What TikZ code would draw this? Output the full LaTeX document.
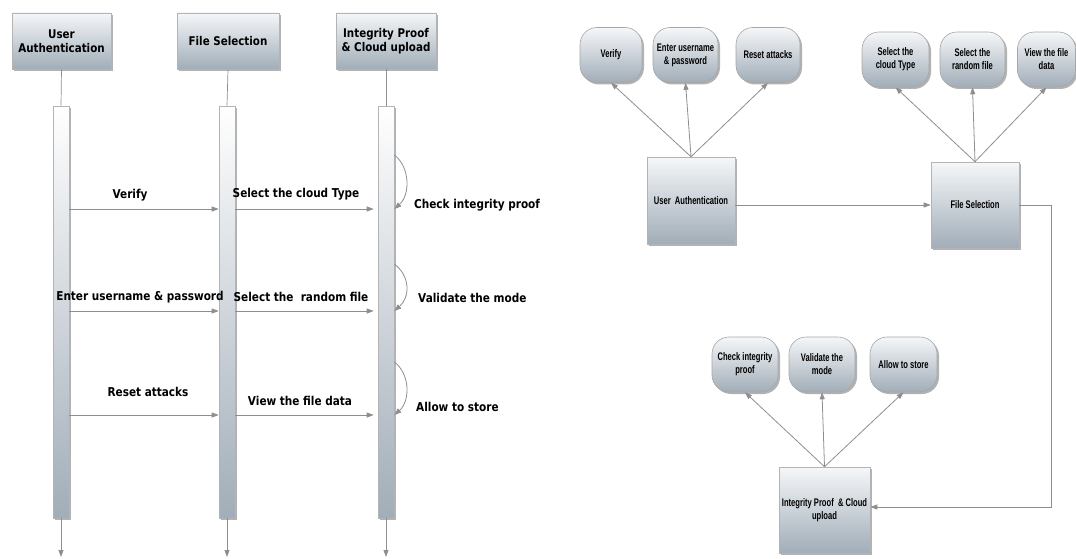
\documentclass[tikz,border=0pt]{standalone}
\usepackage{fontspec}
\setmainfont{DejaVu Sans}
\newfontfamily\seqfont[FakeStretch=0.86]{DejaVu Sans}
\newfontfamily\narrowfont[FakeStretch=0.69]{Liberation Sans}
\usetikzlibrary{arrows.meta,shadows}

\definecolor{lineg}{HTML}{8E8E8E}
\definecolor{shtop}{HTML}{F5F7F9}
\definecolor{shbot}{HTML}{A1ADB8}
\definecolor{edge}{HTML}{B4B4B4}

\tikzset{
  shade box/.style={rectangle, draw=edge, line width=0.6pt, top color=shtop, bottom color=shbot,
    drop shadow={shadow xshift=2pt, shadow yshift=-2pt, fill=black!55, opacity=0.55}},
  header/.style={shade box, minimum height=56pt, align=center,
    font=\seqfont\bfseries\fontsize{12}{14}\selectfont},
  bar/.style={shade box, top color=white, minimum width=16pt, minimum height=412pt},
  lifeline/.style={draw=lineg, line width=0.7pt},
  msg/.style={draw=lineg, line width=0.8pt, -{Triangle[length=7pt,width=5pt]}, lineg},
  msglabel/.style={font=\seqfont\bfseries\fontsize{12.2}{14}\selectfont, inner sep=0pt},
  pill/.style={shade box, rounded corners=17pt, draw=gray!70, minimum height=55pt, align=center,
    font=\narrowfont\bfseries\fontsize{11}{13}\selectfont, inner sep=1pt},
  bigbox/.style={shade box, align=center, font=\narrowfont\bfseries\fontsize{11}{13.5}\selectfont, inner sep=1pt},
}

\begin{document}
\begin{tikzpicture}[x=1pt,y=-1pt]
\useasboundingbox (0,0) rectangle (1076,559);

% ---------- sequence view ----------
\node[header, minimum width=99pt]  (hua) at (61.5,41) {User\\Authentication};
\node[header, minimum width=102pt] (hfs) at (228,41)  {File Selection};
\node[header, minimum width=100pt] (hip) at (386,41)  {Integrity Proof\\\& Cloud upload};

\node[bar] (bua) at (61,312)  {};
\node[bar] (bfs) at (227,312) {};
\node[bar] (bip) at (386,312) {};

\coordinate (eua) at (61,557);
\coordinate (efs) at (227,557);
\coordinate (eip) at (386,557);

\draw[lifeline] (hua.south) -- (bua.north);
\draw[lifeline] (hfs.south) -- (bfs.north);
\draw[lifeline] (hip.south) -- (bip.north);
\draw[msg] (bua.south) -- (eua);
\draw[msg] (bfs.south) -- (efs);
\draw[msg] (bip.south) -- (eip);

% message rows
\coordinate (r1) at (0,209);
\coordinate (r2) at (0,311);
\coordinate (r3) at (0,415);
\coordinate (s1) at (0,155);
\coordinate (s2) at (0,264);
\coordinate (s3) at (0,362);

\draw[msg] (bua.east |- r1) -- (bfs.west |- r1);
\draw[msg] (bua.east |- r2) -- (bfs.west |- r2);
\draw[msg] (bua.east |- r3) -- (bfs.west |- r3);
\draw[msg] (bfs.east |- r1) -- ([xshift=-4pt]bip.west |- r1);
\draw[msg] (bfs.east |- r2) -- ([xshift=-4pt]bip.west |- r2);
\draw[msg] (bfs.east |- r3) -- ([xshift=-4pt]bip.west |- r3);

% self calls on the upload lifeline
\draw[msg] (bip.east |- s1) .. controls +(16,12) and +(16,-14) .. (bip.east |- r1);
\draw[msg] (bip.east |- s2) .. controls +(16,12) and +(16,-14) .. (bip.east |- r2);
\draw[msg] (bip.east |- s3) .. controls +(16,12) and +(16,-14) .. (bip.east |- r3);

\node[msglabel] (l1) at (130,195) {Verify};
\node[msglabel] (l2) at (140,297) {Enter username \& password};
\node[msglabel] (l3) at (148,392) {Reset attacks};
\node[msglabel] (l4) at (296,194) {Select the cloud Type};
\node[msglabel] (l5) at (301,297) {Select the~~random file};
\node[msglabel] (l6) at (300,401) {View the file data};
\node[msglabel, anchor=west] (l7) at (414,205) {Check integrity proof};
\node[msglabel, anchor=west] (l8) at (418,298) {Validate the mode};
\node[msglabel, anchor=west] (l9) at (416,407) {Allow to store};

% ---------- flow view ----------
\node[pill, minimum width=62pt] (pv)  at (611,55)   {Verify};
\node[pill, minimum width=65pt] (pe)  at (685.5,55) {Enter username\\\& password};
\node[pill, minimum width=64pt] (pr)  at (768,55)   {Reset attacks};
\node[bigbox, minimum width=88pt, minimum height=87pt] (ua) at (691,200.5) {User~~Authentication};

\node[pill, minimum width=67pt] (pc)  at (895.5,59.5)  {Select the\\cloud Type};
\node[pill, minimum width=65pt] (pf)  at (972.5,59.5)  {Select the\\random file};
\node[pill, minimum width=58pt] (pd)  at (1046.5,59.5) {View the file\\data};
\node[bigbox, minimum width=88pt, minimum height=86pt] (fs) at (975,205) {File Selection};

\node[pill, minimum width=66pt] (pi)  at (745,364.5)   {Check integrity\\proof};
\node[pill, minimum width=66pt] (pm)  at (822,364.5)   {Validate the\\mode};
\node[pill, minimum width=67pt] (ps)  at (903.5,364.5) {Allow to store};
\node[bigbox, minimum width=91pt, minimum height=86pt] (ip) at (824.5,510) {Integrity Proof~~\& Cloud\\upload};

\coordinate (bend) at (1051,0);

\draw[msg] (ua.north) -- (pv.south);
\draw[msg] (ua.north) -- (pe.south);
\draw[msg] (ua.north) -- (pr.south);
\draw[msg] (fs.north) -- (pc.south);
\draw[msg] (fs.north) -- (pf.south);
\draw[msg] (fs.north) -- (pd.south);
\draw[msg] (ip.north) -- (pi.south);
\draw[msg] (ip.north) -- (pm.south);
\draw[msg] (ip.north) -- (ps.south);

\draw[msg] (ua.east |- fs.west) -- (fs.west);
\draw[msg] (fs.east) -- (fs.east -| bend) |- ([yshift=3pt]ip.east);
\end{tikzpicture}
\end{document}
